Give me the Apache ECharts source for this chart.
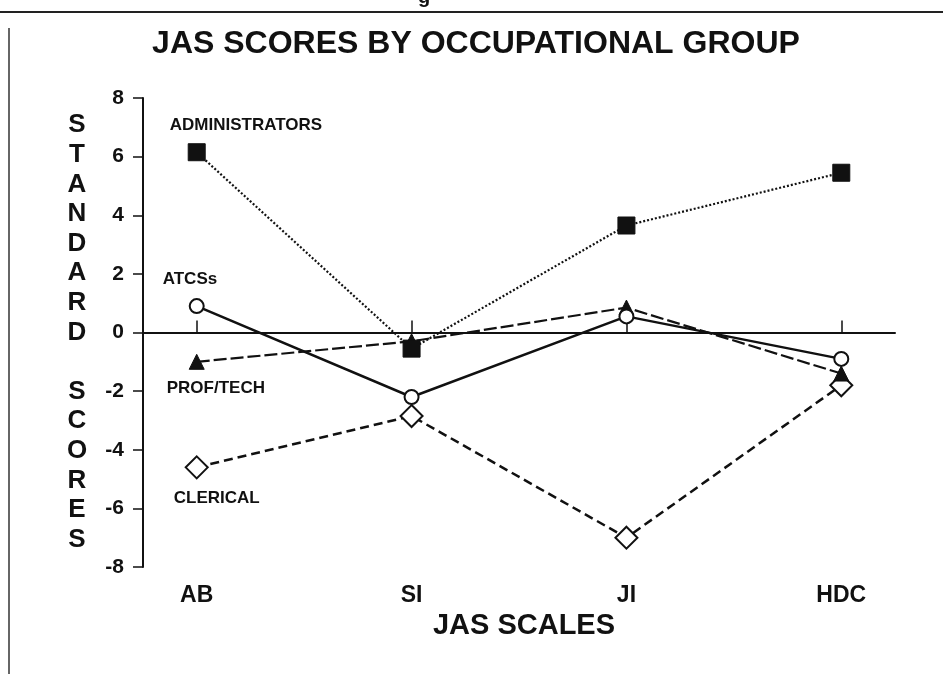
<!DOCTYPE html>
<html>
<head>
<meta charset="utf-8">
<script src="https://cdn.jsdelivr.net/npm/echarts@6/dist/echarts.min.js"></script>
<style>
html,body{margin:0;padding:0;background:#fff;}
#chart{width:943px;height:674px;}
</style>
</head>
<body>
<div id="chart"></div>
<script>
// ---- data ----
const categories = ['AB', 'SI', 'JI', 'HDC'];
const administrators = [6.15, -0.55, 3.65, 5.45];
const atcss = [0.9, -2.2, 0.55, -0.9];
const profTech = [-1.0, -0.3, 0.85, -1.4];
const clerical = [-4.6, -2.85, -7.0, -1.8];
const yTicks = [-8, -6, -4, -2, 0, 2, 4, 6, 8];
const titleText = 'JAS SCORES BY OCCUPATIONAL GROUP';
const xName = 'JAS SCALES';
const yName = 'STANDARD SCORES';

const FONT = '"Liberation Sans", Arial, Helvetica, sans-serif';
const INK = '#111';

function toData(vals, labelCfg) {
  return vals.map((v, i) => i === 0
    ? { value: [i, v], label: Object.assign({ show: true, formatter: '{a}', position: 'inside', align: 'left', verticalAlign: 'middle', color: INK, fontFamily: FONT, fontWeight: 'bold', fontSize: 17 }, labelCfg) }
    : [i, v]);
}

const catIdx = categories.map((c, i) => i);

const chart = echarts.init(document.getElementById('chart'), null, { renderer: 'canvas' });
chart.setOption({
  backgroundColor: '#fff',
  animation: false,
  title: {
    text: titleText,
    left: 471,
    textAlign: 'center',
    top: 23,
    textStyle: { fontFamily: FONT, fontWeight: 'bold', fontSize: 32, color: INK }
  },
  graphic: [
    { type: 'line', shape: { x1: 0, y1: 12, x2: 943, y2: 12 }, style: { stroke: '#222', lineWidth: 2 } },
    { type: 'line', shape: { x1: 9, y1: 28, x2: 9, y2: 674 }, style: { stroke: '#333', lineWidth: 1.5 } },
    { type: 'text', x: 424, y: -13, style: { text: 'g', font: 'bold 20px "Liberation Sans", Arial, sans-serif', fill: INK, textAlign: 'center' } }
  ],
  grid: { left: 143, right: 48, top: 98, bottom: 107, containLabel: false },
  xAxis: [
    {
      type: 'value', min: -0.25, max: 3.25,
      axisLine: { show: false, onZero: false },
      axisTick: { show: false },
      splitLine: { show: false },
      axisLabel: {
        customValues: catIdx,
        formatter: v => categories[Math.round(v)],
        margin: 17, color: INK, fontFamily: FONT, fontWeight: 'bold', fontSize: 23
      },
      name: xName, nameLocation: 'middle', nameGap: 55,
      nameTextStyle: { fontFamily: FONT, fontWeight: 'bold', fontSize: 29, color: INK, verticalAlign: 'middle', padding: [0, 0, 0, 10] }
    },
    {
      type: 'value', min: -0.25, max: 3.25,
      axisLine: { show: true, onZero: true, onZeroAxisIndex: 0, lineStyle: { color: INK, width: 2 } },
      axisTick: { show: true, customValues: catIdx, length: 12, lineStyle: { color: INK, width: 1.5 } },
      axisLabel: { show: false },
      splitLine: { show: false }
    }
  ],
  yAxis: {
    type: 'value', min: -8, max: 8, interval: 2,
    axisLine: { show: true, onZero: false, lineStyle: { color: INK, width: 2 } },
    axisTick: { show: true, length: 10, lineStyle: { color: INK, width: 1.5 } },
    splitLine: { show: false },
    axisLabel: { margin: 19, color: INK, fontFamily: FONT, fontWeight: 'bold', fontSize: 21 },
    name: yName.split('').map(ch => ch === ' ' ? '' : ch).join('\n'),
    nameLocation: 'middle', nameRotate: 0, nameGap: 66,
    nameTextStyle: { fontFamily: FONT, fontWeight: 'bold', fontSize: 26, color: INK, lineHeight: 29.6, align: 'center', verticalAlign: 'middle', padding: [0, 0, 10, 0] }
  },
  series: [
    {
      name: 'ADMINISTRATORS', type: 'line', xAxisIndex: 0,
      data: toData(administrators, { offset: [-27, -27] }),
      symbol: 'rect', symbolSize: 17,
      itemStyle: { color: INK, borderColor: INK, borderWidth: 1 },
      lineStyle: { color: INK, width: 2.2, type: [2, 2] },
      z: 5
    },
    {
      name: 'ATCSs', type: 'line', xAxisIndex: 0,
      data: toData(atcss, { offset: [-34, -27] }),
      symbol: 'circle', symbolSize: 14,
      itemStyle: { color: '#fff', borderColor: INK, borderWidth: 2 },
      lineStyle: { color: INK, width: 2.5, type: 'solid' },
      z: 4
    },
    {
      name: 'PROF/TECH', type: 'line', xAxisIndex: 0,
      data: toData(profTech, { offset: [-30, 26] }),
      symbol: 'triangle', symbolSize: 15,
      itemStyle: { color: INK, borderColor: INK, borderWidth: 1 },
      lineStyle: { color: INK, width: 2.2, type: [13, 4] },
      z: 3
    },
    {
      name: 'CLERICAL', type: 'line', xAxisIndex: 0,
      data: toData(clerical, { offset: [-23, 31] }),
      symbol: 'diamond', symbolSize: 22,
      itemStyle: { color: '#fff', borderColor: INK, borderWidth: 2 },
      lineStyle: { color: INK, width: 2.5, type: [9, 5] },
      z: 2
    }
  ]
});
</script>
</body>
</html>
